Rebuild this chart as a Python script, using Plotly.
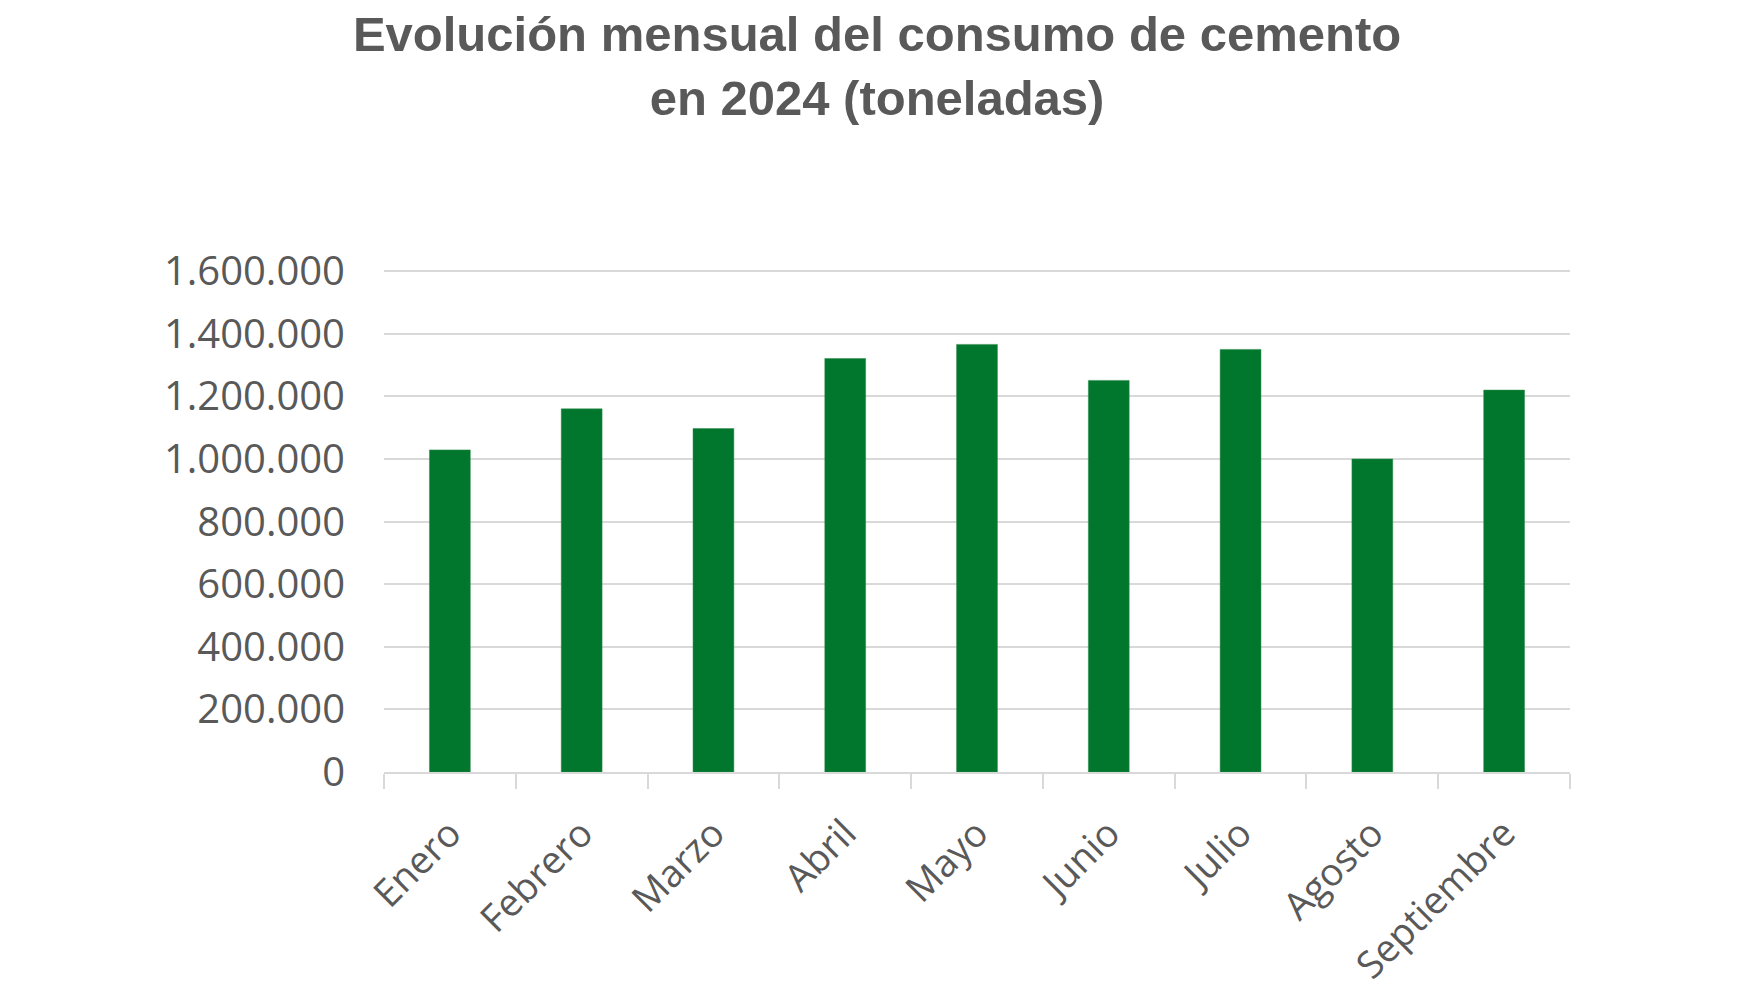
import plotly.graph_objects as go

meses = ["Enero", "Febrero", "Marzo", "Abril", "Mayo", "Junio", "Julio", "Agosto", "Septiembre"]
consumo = [1029000, 1160000, 1097000, 1321000, 1366000, 1251000, 1350000, 1000000, 1220000]
y_ticks = [0, 200000, 400000, 600000, 800000, 1000000, 1200000, 1400000, 1600000]
titulo = "Evolución mensual del consumo de cemento<br>en 2024 (toneladas)"

fig = go.Figure(go.Bar(
    x=meses, y=consumo,
    marker=dict(color="#00772C", line=dict(color="#2E8B4A", width=0.5)),
))

fig.update_layout(
    width=1750, height=1000,
    paper_bgcolor="white", plot_bgcolor="white",
    margin=dict(l=376, r=188, t=260, b=236),
    bargap=0.69,
    separators=",.",
    showlegend=False,
    title=dict(
        text=titulo,
        x=0.4966, xref="container", xanchor="center",
        y=0.957, yref="container", yanchor="top",
        font=dict(family="Liberation Sans, Arial", size=49, color="#595959", weight="bold"),
    ),
)

fig.update_yaxes(
    range=[0, 1610000],
    tickvals=y_ticks,
    tickformat=",d",
    showgrid=True, gridcolor="#D9D9D9", gridwidth=1.5,
    zeroline=False, showline=False,
    ticks="",
    ticklabelstandoff=38,
    tickfont=dict(family="Open Sans", size=40, color="#595959"),
)

fig.update_xaxes(
    showline=True, linecolor="#D9D9D9", linewidth=1.5,
    ticks="outside", ticklen=15, tickcolor="#D9D9D9", tickwidth=1.5,
    tickson="boundaries",
    tickangle=-45,
    ticklabelstandoff=22,
    showgrid=False,
    tickfont=dict(family="Open Sans", size=38, color="#595959"),
)

fig.write_html("out.html")
